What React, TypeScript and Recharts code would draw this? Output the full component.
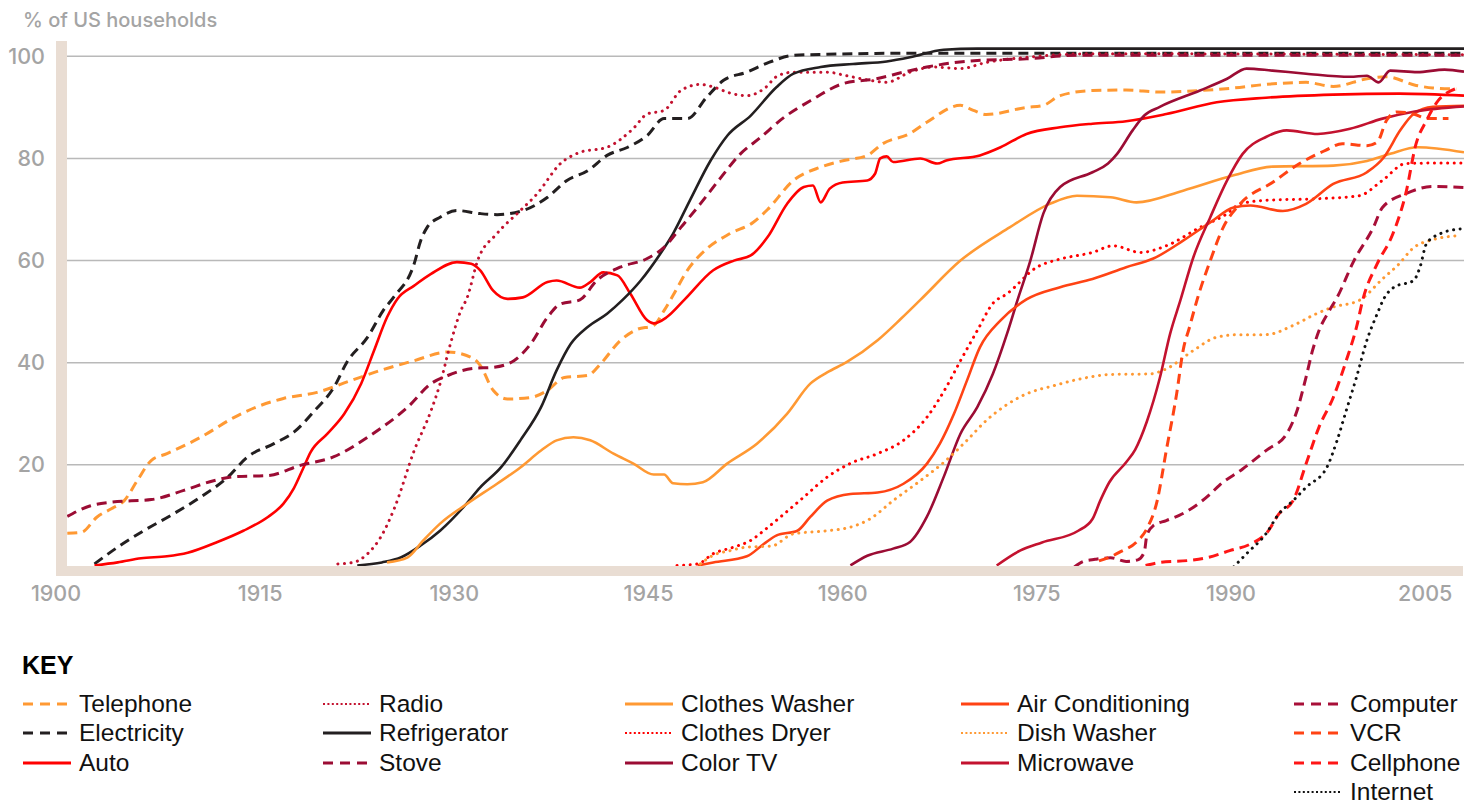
import { LineChart, Line, XAxis, YAxis, ReferenceLine } from 'recharts';

// share of US households owning each technology, [year, %]
const telephoneData = [
  [1900.1, 6.6], [1901.2, 6.8], [1902.4, 9.8], [1903.5, 11.4], [1904.5, 13.0], [1905.5, 16.9],
  [1906.6, 20.9], [1907.8, 22.2], [1910.4, 25.4], [1913, 29.3], [1915, 31.6], [1916.8, 33.0],
  [1919.4, 34.2], [1922, 36.5], [1924.3, 38.5], [1926.9, 40.4], [1929.5, 42.1], [1931.5, 40.8],
  [1932, 39.5], [1933, 34.6], [1934.1, 32.9], [1935.9, 33.2], [1937.2, 34.6], [1938.5, 37.1],
  [1940.3, 37.5], [1941.3, 39.8], [1942.8, 44.3], [1944.1, 46.5], [1945.4, 47.3], [1946.2, 50.2],
  [1946.9, 53.2], [1948, 58.1], [1949.5, 62.3], [1951.3, 65.3], [1953.1, 67.5], [1954.2, 70.0],
  [1956.2, 75.7], [1958.3, 78.3], [1960.1, 79.6], [1961.9, 80.6], [1963.1, 82.9], [1965.2, 84.9],
  [1966.5, 87.1], [1969.1, 90.4], [1970.1, 89.4], [1971.1, 88.6], [1974.2, 90.0], [1975.5, 90.4],
  [1976.8, 92.3], [1979.3, 93.3], [1981.9, 93.4], [1984.5, 93.0], [1987.6, 93.3], [1990.2, 93.8],
  [1992.7, 94.5], [1995.8, 94.9], [1997.9, 94.1], [2000.5, 95.6], [2002, 96.0], [2004.3, 94.3],
  [2005.6, 93.8], [2007.4, 93.6],
];

const electricityData = [
  [1902.2, 0.6], [1904, 3.9], [1906, 7.1], [1908.3, 10.4], [1910.4, 13.7], [1912.5, 17.6],
  [1914, 21.5], [1916.1, 24.2], [1917.6, 26.4], [1919.2, 30.6], [1920.7, 35.2], [1921.7, 40.1],
  [1923.3, 45.0], [1924.5, 50.2], [1925.3, 52.8], [1926.9, 59.4], [1927.4, 63.9], [1927.9, 66.5],
  [1928.9, 68.5], [1930.2, 69.8], [1932, 69.2], [1933.3, 69.0], [1935.3, 69.8], [1937.2, 72.4],
  [1938.7, 75.7], [1940.3, 77.6], [1941.8, 80.6], [1943.4, 82.2], [1944.9, 84.5], [1946.2, 87.8],
  [1948, 87.8], [1949.5, 92.0], [1950.8, 95.3], [1952.6, 96.9], [1954.3, 98.8], [1956.2, 100.2],
  [1958.8, 100.4], [1965, 100.6], [1980, 100.6], [2008, 100.6],
];

const autoData = [
  [1902.2, 0.3], [1904, 0.9], [1905.8, 1.7], [1907.8, 2.1], [1909.4, 2.8], [1911.7, 4.9],
  [1913.7, 7.1], [1915.6, 9.8], [1916.8, 12.4], [1917.6, 15.4], [1918.3, 19.2], [1918.9, 22.5],
  [1920.2, 26.1], [1921.5, 30.0], [1922.8, 35.9], [1923.8, 42.4], [1924.8, 48.9], [1925.6, 52.5],
  [1926.9, 55.1], [1928.2, 57.4], [1930.2, 59.7], [1931.3, 59.4], [1932, 58.1], [1933, 54.1],
  [1934.1, 52.5], [1935.3, 52.8], [1937.2, 55.8], [1937.9, 56.1], [1939.7, 54.7], [1940.5, 55.8],
  [1941.5, 57.7], [1942.6, 57.1], [1943.6, 53.5], [1944.9, 48.3], [1945.4, 47.7], [1946.4, 48.9],
  [1947.8, 52.4], [1950, 58.1], [1951.6, 60.0], [1952.9, 61.0], [1954.2, 64.6], [1955.7, 71.1],
  [1957, 74.4], [1957.7, 74.7], [1958.3, 71.4], [1959, 74.1], [1960, 75.3], [1961.9, 75.7],
  [1962.5, 77.0], [1962.9, 80.0], [1963.4, 80.4], [1963.9, 79.3], [1966, 80.0], [1967.3, 79.0],
  [1968, 79.6], [1970.6, 80.6], [1972.2, 82.2], [1974.2, 84.8], [1976.8, 86.1], [1979.3, 86.8],
  [1981.9, 87.3], [1985, 88.7], [1988.9, 91.0], [1992.7, 91.9], [1997.9, 92.5], [2003, 92.7],
  [2008, 92.3],
];

const radioData = [
  [1921, 0.6], [1922.2, 0.9], [1923.3, 2.6], [1924.3, 5.8], [1925.4, 11.7], [1926.9, 22.8],
  [1928.2, 30.6], [1928.9, 35.9], [1929.7, 43.7], [1930.5, 50.2], [1931, 52.8], [1931.8, 60.0],
  [1933.3, 65.3], [1935.1, 69.8], [1936.4, 73.1], [1938.2, 79.0], [1939.7, 81.2], [1941.8, 82.2],
  [1943.8, 85.8], [1944.9, 88.7], [1946.2, 89.4], [1947.5, 93.3], [1949, 94.5], [1950, 94.0],
  [1951.3, 92.8], [1952.6, 92.3], [1953.9, 93.6], [1955, 96.2], [1956.2, 96.9], [1958.8, 96.9],
  [1960.3, 96.2], [1962.1, 95.3], [1963.4, 94.9], [1965.2, 96.9], [1967, 97.9], [1969.1, 97.6],
  [1971.1, 98.8], [1974.2, 99.8], [1979.3, 100.5], [2008, 100.3],
];

const refrigeratorData = [
  [1922.5, 0.3], [1924.4, 0.9], [1925.9, 1.9], [1927.4, 4.2], [1928.9, 7.1], [1930.7, 11.7],
  [1932, 15.6], [1933.6, 19.5], [1935.1, 24.8], [1936.7, 31.3], [1937.9, 38.5], [1939, 43.7],
  [1940.3, 47.0], [1941.8, 49.6], [1943, 52.3], [1944.4, 56.1], [1945.9, 61.3], [1946.9, 65.3],
  [1948.2, 71.8], [1949.8, 79.6], [1951.1, 84.5], [1952.9, 88.4], [1954.9, 94.0], [1956.2, 96.6],
  [1958.3, 97.9], [1960.8, 98.5], [1963.4, 99.0], [1965.2, 99.8], [1967.8, 101.3], [1970.4, 101.5],
  [2008, 101.5],
];

const stoveData = [
  [1900.1, 9.9], [1901.9, 12.0], [1903.5, 12.7], [1906.6, 13.2], [1909.1, 15.0], [1911.4, 16.9],
  [1913, 17.7], [1915.6, 17.9], [1918.1, 19.9], [1920.7, 21.6], [1923.3, 25.4], [1924.4, 27.3],
  [1926.4, 31.3], [1928.2, 35.9], [1929.5, 37.5], [1931.5, 38.9], [1933, 39.1], [1934.6, 40.4],
  [1935.9, 43.7], [1937.2, 48.9], [1938.2, 51.5], [1939.7, 52.3], [1941, 56.1], [1942.8, 58.7],
  [1944.9, 60.4], [1946.2, 62.6], [1947.5, 66.5], [1949, 71.1], [1950.6, 76.3], [1952.1, 80.9],
  [1953.6, 84.0], [1955.5, 88.1], [1957.5, 91.3], [1960.1, 94.7], [1962.6, 95.6], [1964.7, 96.9],
  [1966.5, 97.9], [1970.4, 99.2], [1974.2, 99.5], [1978.1, 100.2], [2008, 100.2],
];

const clothesWasherData = [
  [1924.8, 0.9], [1926.4, 1.9], [1927.6, 5.2], [1928.9, 8.5], [1931, 12.4], [1933.3, 16.3],
  [1935.1, 19.5], [1936.7, 22.8], [1937.9, 24.8], [1939.2, 25.4], [1940.5, 24.8], [1942.3, 22.2],
  [1943.8, 20.3], [1945.4, 18.1], [1946.2, 18.1], [1946.9, 16.4], [1948, 16.2], [1949.2, 16.6],
  [1951.1, 20.3], [1953.4, 24.2], [1955.7, 30.0], [1957.5, 35.9], [1958.8, 38.1], [1960.3, 40.1],
  [1962.7, 44.4], [1964.5, 48.6], [1966, 52.3], [1969.1, 60.0], [1972.9, 66.5], [1976, 71.1],
  [1978.1, 72.7], [1980.7, 72.4], [1982.7, 71.4], [1986.3, 73.7], [1990.2, 76.7], [1993.2, 78.4],
  [1997.9, 78.6], [2000.5, 79.5], [2002.3, 80.9], [2004.4, 82.2], [2008, 81.2],
];

const clothesDryerData = [
  [1947.2, 0.3], [1948.8, 0.6], [1950, 2.6], [1951.6, 3.9], [1952.9, 5.2], [1953.9, 7.1],
  [1955.2, 9.8], [1957, 13.7], [1958.8, 17.6], [1960.6, 20.3], [1962.7, 22.2], [1964.7, 24.8],
  [1966.5, 29.3], [1968, 35.2], [1969.1, 40.4], [1970.4, 46.3], [1971.6, 51.6], [1972.7, 53.5],
  [1975, 58.7], [1976.8, 60.3], [1979.3, 61.6], [1980.9, 62.9], [1983, 61.6], [1985, 62.9],
  [1987.6, 66.5], [1989.7, 69.2], [1990.7, 71.1], [1992.7, 71.8], [1996.6, 72.1], [1999.9, 72.7],
  [2001.7, 75.7], [2003.5, 79.0], [2005.6, 79.1], [2008, 79.1],
];

const colorTvData = [
  [1960.6, 0.3], [1961.9, 2.2], [1963.9, 3.6], [1965.2, 4.9], [1966.5, 9.8], [1967.8, 17.6],
  [1969.1, 26.1], [1970.4, 31.3], [1971.6, 37.8], [1972.7, 45.7], [1973.5, 52.2], [1974.5, 60.0],
  [1975.5, 69.2], [1976.8, 74.4], [1979.3, 77.3], [1980.5, 79.0], [1981.2, 80.9], [1982.4, 85.5],
  [1983.3, 88.4], [1984.5, 90.1], [1987.6, 93.3], [1989.7, 95.6], [1991.2, 97.6], [1993.2, 97.2],
  [1995.8, 96.6], [1999.2, 96.0], [2000.5, 96.2], [2001.4, 94.9], [2002.3, 97.2], [2004.4, 96.9],
  [2006.5, 97.4], [2008, 97.0],
];

const airConditioningData = [
  [1948.8, 0.3], [1950, 0.9], [1952.6, 2.1], [1953.9, 4.5], [1954.9, 6.2], [1956.5, 7.1],
  [1957.5, 9.8], [1958.8, 13.0], [1960.6, 14.3], [1962.7, 14.6], [1964.7, 16.3], [1966.5, 20.2],
  [1967.5, 24.1], [1968.6, 30.0], [1969.6, 36.5], [1970.6, 43.0], [1972.2, 48.3], [1974.2, 52.4],
  [1976.8, 54.8], [1979.3, 56.4], [1981.9, 58.7], [1984, 60.4], [1986.3, 63.9], [1988.4, 67.5],
  [1990.2, 70.4], [1991.5, 70.8], [1994, 69.7], [1995.8, 71.1], [1997.9, 75.0], [2000.5, 77.3],
  [2001.8, 80.2], [2003.1, 85.6], [2004.1, 88.7], [2005.6, 90.1], [2008, 90.3],
];

const dishWasherData = [
  [1949, 0.6], [1950, 2.3], [1951.3, 3.2], [1952.6, 3.9], [1954.5, 4.1], [1956.2, 6.5],
  [1958.8, 7.1], [1960.6, 7.8], [1962.1, 9.4], [1963.9, 13.0], [1966, 16.9], [1968, 20.9],
  [1969.6, 24.8], [1971.1, 28.7], [1972.4, 31.3], [1974.2, 33.9], [1976.3, 35.5], [1978.3, 36.8],
  [1980.7, 37.7], [1983.7, 37.8], [1985, 38.8], [1987.1, 42.4], [1988.9, 45.0], [1990.7, 45.5],
  [1992.7, 45.5], [1994.8, 47.3], [1996.6, 49.6], [1997.9, 50.9], [1999.9, 52.2], [2001.7, 56.4],
  [2003, 59.4], [2004, 62.3], [2005.6, 64.1], [2007.7, 64.9],
];

const microwaveData = [
  [1971.9, 0.3], [1973.7, 3.2], [1975.4, 4.8], [1978.2, 7.1], [1979.3, 9.4], [1979.9, 13.0],
  [1980.6, 16.6], [1981.9, 20.5], [1982.6, 23.0], [1983.5, 28.5], [1984.5, 37.0], [1985.3, 45.7],
  [1986.1, 52.3], [1987.1, 60.7], [1988.4, 68.5], [1989.7, 75.7], [1990.9, 80.9], [1992.7, 84.2],
  [1994.3, 85.5], [1996.7, 84.8], [1999.2, 85.8], [2001.7, 87.8], [2004.2, 89.2], [2008, 90.2],
];

const computerData = [
  [1977.9, 0], [1978.6, 1.1], [1979.5, 1.5], [1980.7, 1.8], [1981.9, 1.1], [1982.8, 1.4],
  [1983.3, 2.9], [1983.5, 6.2], [1984, 8.1], [1985, 9.1], [1986, 10.1], [1987.1, 11.7],
  [1988.4, 14.3], [1989.1, 16.0], [1990.9, 19.2], [1992.7, 22.8], [1994.3, 26.1], [1995.1, 30.6],
  [1995.8, 37.2], [1996.3, 42.4], [1996.8, 46.3], [1997.6, 50.2], [1998.2, 52.8], [1999.5, 60.0],
  [2001, 66.5], [2001.7, 70.4], [2003.5, 73.1], [2005.6, 74.5], [2008, 74.3],
];

const vcrData = [
  [1979.8, 1.2], [1980.7, 2.0], [1981.4, 2.9], [1982.7, 4.9], [1983.5, 7.5], [1984.3, 13.0],
  [1985, 22.8], [1985.8, 33.9], [1986.3, 42.4], [1986.8, 47.0], [1987.4, 52.5], [1988.4, 60.0],
  [1989.4, 66.5], [1990.7, 71.1], [1993.2, 75.3], [1995.3, 79.0], [1997.3, 81.6], [1998.6, 82.9],
  [2000.5, 82.5], [2001.3, 83.2], [2002, 87.4], [2002.8, 89.1], [2004.1, 88.7], [2005.2, 87.8],
  [2006.8, 87.8],
];

const cellphoneData = [
  [1983.4, 0.3], [1984.5, 0.9], [1986.8, 1.3], [1988.1, 1.8], [1989.9, 3.2], [1991.5, 4.5],
  [1992.8, 6.8], [1993.7, 10.4], [1994.8, 13.0], [1995.8, 20.2], [1996.8, 27.4], [1997.9, 33.2],
  [1998.9, 40.4], [1999.7, 47.0], [2000.2, 52.5], [2001.3, 59.4], [2002.5, 65.2], [2003.5, 73.1],
  [2004.3, 82.9], [2005.1, 87.4], [2005.9, 91.0], [2006.8, 93.0], [2007.3, 93.6],
];

const internetData = [
  [1990.2, 0], [1991.2, 2.6], [1992.7, 6.5], [1993.7, 10.4], [1994.8, 13.0], [1995.8, 15.6],
  [1997.4, 19.5], [1998.2, 24.8], [1998.9, 30.6], [1999.7, 37.2], [2000.5, 44.4], [2001.3, 49.6],
  [2001.8, 52.5], [2002.6, 54.8], [2004.1, 56.1], [2004.6, 58.7], [2005.1, 63.3], [2006.1, 65.2],
  [2007.7, 66.2],
];

const yearTicks = [1900, 1915, 1930, 1945, 1960, 1975, 1990, 2005];
const percentTicks = [20, 40, 60, 80, 100];

const ORANGE = '#ff9933';
const BLACK = '#231f20';
const RED = '#ff0000';
const CRIMSON = '#c3122f';
const MAROON = '#9b0c34';
const ORANGE_RED = '#ff4314';

type Style = 'solid' | 'dashed' | 'dotted';

const series: { name: string; data: number[][]; color: string; style: Style }[] = [
  { name: 'Telephone', data: telephoneData, color: ORANGE, style: 'dashed' },
  { name: 'Electricity', data: electricityData, color: BLACK, style: 'dashed' },
  { name: 'Auto', data: autoData, color: RED, style: 'solid' },
  { name: 'Radio', data: radioData, color: CRIMSON, style: 'dotted' },
  { name: 'Refrigerator', data: refrigeratorData, color: BLACK, style: 'solid' },
  { name: 'Stove', data: stoveData, color: MAROON, style: 'dashed' },
  { name: 'Clothes Washer', data: clothesWasherData, color: ORANGE, style: 'solid' },
  { name: 'Clothes Dryer', data: clothesDryerData, color: RED, style: 'dotted' },
  { name: 'Color TV', data: colorTvData, color: MAROON, style: 'solid' },
  { name: 'Air Conditioning', data: airConditioningData, color: ORANGE_RED, style: 'solid' },
  { name: 'Dish Washer', data: dishWasherData, color: ORANGE, style: 'dotted' },
  { name: 'Microwave', data: microwaveData, color: CRIMSON, style: 'solid' },
  { name: 'Computer', data: computerData, color: '#a80f38', style: 'dashed' },
  { name: 'VCR', data: vcrData, color: ORANGE_RED, style: 'dashed' },
  { name: 'Cellphone', data: cellphoneData, color: '#ff1616', style: 'dashed' },
  { name: 'Internet', data: internetData, color: '#111111', style: 'dotted' },
];

const legendColumns = [
  ['Telephone', 'Electricity', 'Auto'],
  ['Radio', 'Refrigerator', 'Stove'],
  ['Clothes Washer', 'Clothes Dryer', 'Color TV'],
  ['Air Conditioning', 'Dish Washer', 'Microwave'],
  ['Computer', 'VCR', 'Cellphone', 'Internet'],
];
const legendLeft = [23, 323, 625, 961, 1294];

const TAN = '#e9ddd3';
const GRAY = '#a4a4a4';
const CHART_FONT = "Inter, 'Noto Sans', sans-serif";
const LEGEND_FONT = "'Liberation Sans', Arial, sans-serif";

function strokeProps(style: Style) {
  if (style === 'dashed') return { strokeWidth: 3, strokeDasharray: '10 6' };
  if (style === 'dotted') return { strokeWidth: 3, strokeDasharray: '0.1 6.5', strokeLinecap: 'round' as const };
  return { strokeWidth: 2.6 };
}

const XTick = (props: any) => {
  const { x, y, payload } = props;
  // first label sits under the tan axis bar
  const shift = payload.value === 1900 ? -10 : 0;
  return (
    <text x={x + shift} y={y} dy={34} textAnchor="middle" fill={GRAY} fontSize={21.5} fontWeight={500} fontFamily={CHART_FONT}>
      {payload.value}
    </text>
  );
};

const YTick = (props: any) => {
  const { x, y, payload } = props;
  return (
    <text x={x - 21} y={y} dy={7.5} textAnchor="end" fill={GRAY} fontSize={21.5} fontWeight={500} fontFamily={CHART_FONT}>
      {payload.value}
    </text>
  );
};

function LegendSwatch({ color, style }: { color: string; style: Style }) {
  const dash = style === 'dashed' ? '10 7' : style === 'dotted' ? '2 2.4' : undefined;
  return (
    <svg width={48} height={10} style={{ display: 'block' }}>
      <line x1={0} y1={5} x2={48} y2={5} stroke={color} strokeWidth={style === 'dotted' ? 2 : 3} strokeDasharray={dash} />
    </svg>
  );
}

export default function App() {
  return (
    <div style={{ position: 'absolute', left: 0, top: 0, width: 1476, height: 803, background: '#fff' }}>
      <div
        style={{
          position: 'absolute',
          left: 23,
          top: 8,
          fontFamily: CHART_FONT,
          fontSize: 20,
          fontWeight: 500,
          color: GRAY,
          lineHeight: '24px',
        }}
      >
        % of US households
      </div>

      <div style={{ position: 'absolute', left: 0, top: 0 }}>
        <LineChart width={1476} height={640} margin={{ top: 41, right: 12, bottom: 43, left: 0 }}>
          {/* horizontal grid only at the labelled percentages */}
          {percentTicks.map((v) => (
            <ReferenceLine key={v} y={v} stroke="#b9b9b9" strokeWidth={1.5} />
          ))}
          <XAxis
            type="number"
            dataKey="year"
            domain={[1900, 2008]}
            ticks={yearTicks}
            axisLine={false}
            tickLine={false}
            tickSize={0}
            tickMargin={0}
            height={30}
            tick={<XTick />}
            allowDataOverflow
          />
          <YAxis
            type="number"
            domain={[0, 103]}
            ticks={percentTicks}
            axisLine={false}
            tickLine={false}
            tickSize={0}
            tickMargin={0}
            width={66}
            tick={<YTick />}
            allowDataOverflow
          />
          {series.map((s) => (
            <Line
              key={s.name}
              name={s.name}
              data={s.data.map(([year, value]) => ({ year, value }))}
              dataKey="value"
              type="monotone"
              stroke={s.color}
              dot={false}
              activeDot={false}
              isAnimationActive={false}
              {...strokeProps(s.style)}
            />
          ))}
        </LineChart>
      </div>

      {/* tan axis bars */}
      <div style={{ position: 'absolute', left: 56, top: 41, width: 11, height: 535, background: TAN }} />
      <div style={{ position: 'absolute', left: 56, top: 566, width: 1407, height: 10, background: TAN }} />

      <div
        style={{
          position: 'absolute',
          left: 22,
          top: 651,
          fontFamily: LEGEND_FONT,
          fontWeight: 700,
          fontSize: 25,
          color: '#000',
          lineHeight: '28px',
        }}
      >
        KEY
      </div>

      {legendColumns.map((col, ci) => (
        <div key={ci} style={{ position: 'absolute', left: legendLeft[ci], top: 689.5 }}>
          {col.map((name) => {
            const s = series.find((d) => d.name === name)!;
            return (
              <div key={name} style={{ display: 'flex', alignItems: 'center', height: 29.3 }}>
                <LegendSwatch color={s.color} style={s.style} />
                <span
                  style={{
                    marginLeft: 8,
                    fontFamily: LEGEND_FONT,
                    fontSize: 24.5,
                    color: '#111',
                    lineHeight: '18px',
                    whiteSpace: 'nowrap',
                  }}
                >
                  {name}
                </span>
              </div>
            );
          })}
        </div>
      ))}
    </div>
  );
}
